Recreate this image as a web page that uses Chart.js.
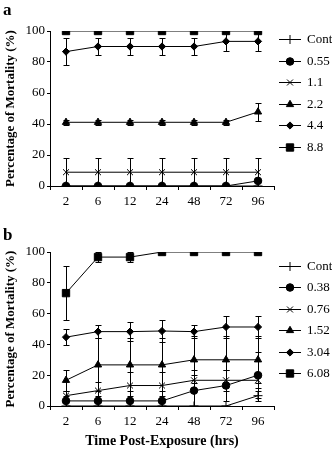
<!DOCTYPE html>
<html><head><meta charset="utf-8">
<script src="https://cdn.jsdelivr.net/npm/chart.js@4/dist/chart.umd.min.js"></script>
<style>
html,body{margin:0;padding:0;background:#fff;}
.p{position:absolute;left:0;width:332px;height:225px;}
</style></head><body>
<div class="p" style="top:0"><canvas id="ca" width="332" height="225"></canvas></div>
<div class="p" style="top:225px"><canvas id="cb" width="332" height="225"></canvas></div>
<script>
// ---- data ----
const hours = ['2', '6', '12', '24', '48', '72', '96'];
const yTicks = [0, 20, 40, 60, 80, 100];

// Panel a
const labelsA = ['Cont', '0.55', '1.1', '2.2', '4.4', '8.8'];
const contA = [0, 0, 0, 0, 0, 0, 0];
const contAErr = [0, 0, 0, 0, 0, 0, 0];
const a055 = [0, 0, 0, 0, 0, 0, 3.3];
const a055Err = [0, 0, 0, 0, 0, 0, 0];
const a11 = [8.9, 8.9, 8.9, 8.9, 8.9, 8.9, 8.9];
const a11Err = [9.1, 9.1, 9.1, 9.1, 9.1, 9.1, 9.1];
const a22 = [41.1, 41.1, 41.1, 41.1, 41.1, 41.1, 47.8];
const a22Err = [1.7, 1.7, 1.7, 1.7, 1.7, 1.7, 6];
const a44 = [86.7, 90, 90, 90, 90, 93.3, 93.3];
const a44Err = [8.7, 5.8, 5.8, 5.8, 5.8, 6, 6];
const a88 = [100, 100, 100, 100, 100, 100, 100];
const a88Err = [0, 0, 0, 0, 0, 0, 0];

// Panel b
const labelsB = ['Cont', '0.38', '0.76', '1.52', '3.04', '6.08'];
const contB = [0, 0, 0, 0, 0, 0, 6.7];
const contBErr = [0, 0, 0, 0, 0, 0, 3.3];
const b038 = [3.3, 3.3, 3.3, 3.3, 10, 13.3, 20];
const b038Err = [3.3, 3.3, 3.3, 3.3, 10, 10, 15];
const b076 = [6.7, 10, 13.3, 13.3, 16.7, 16.7, 16.7];
const b076Err = [3.3, 5.8, 8.8, 8.8, 6.7, 6.7, 5];
const b152 = [16.7, 26.7, 26.7, 26.7, 30, 30, 30];
const b152Err = [6.7, 17.2, 17.2, 17.2, 15.3, 15.3, 15.3];
const b304 = [44.7, 48.3, 48.3, 48.7, 48.3, 51.3, 51.3];
const b304Err = [5, 4.3, 6, 7, 4.3, 7, 7];
const b608 = [73.3, 96.7, 96.7, 100, 100, 100, 100];
const b608Err = [17.6, 3.3, 3.3, 0, 0, 0, 0];

// ---- styles ----
const FONT = '"Liberation Serif", "Times New Roman", serif';
const markers = [
  {pointStyle: 'cross', pointRadius: 4.5},
  {pointStyle: 'circle', pointRadius: 3.8},
  {pointStyle: 'crossRot', pointRadius: 4.2},
  {pointStyle: 'triangle', pointRadius: 4.2},
  {pointStyle: 'rectRot', pointRadius: 3.6},
  {pointStyle: 'rect', pointRadius: 5.2}
];

const errorBars = {
  id: 'errorBars',
  beforeDatasetsDraw(chart) {
    const {ctx, scales: {y}} = chart;
    ctx.save();
    ctx.strokeStyle = '#000';
    ctx.lineWidth = 1;
    chart.data.datasets.forEach((ds, i) => {
      const meta = chart.getDatasetMeta(i);
      (ds.errors || []).forEach((e, j) => {
        if (!e) return;
        const v = ds.data[j];
        const px = Math.round(meta.data[j].x) + 0.5;
        const yt = Math.round(y.getPixelForValue(Math.min(100, v + e))) + 0.5;
        const yb = Math.round(y.getPixelForValue(Math.max(0, v - e))) + 0.5;
        ctx.beginPath();
        ctx.moveTo(px, yt); ctx.lineTo(px, yb);
        ctx.moveTo(px - 3, yt); ctx.lineTo(px + 3, yt);
        if (v - e >= 0) { ctx.moveTo(px - 3, yb); ctx.lineTo(px + 3, yb); }
        ctx.stroke();
      });
    });
    ctx.restore();
  }
};

const lineLegend = {
  id: 'lineLegend',
  afterDraw(chart, args, opts) {
    const ctx = chart.ctx, ca = chart.chartArea;
    const x0 = ca.right + opts.dx, y0 = ca.top + opts.dy;
    ctx.save();
    ctx.font = '13px ' + FONT;
    ctx.textBaseline = 'middle';
    ctx.textAlign = 'left';
    chart.data.datasets.forEach((ds, i) => {
      const yy = Math.round(y0 + i * opts.step) + 0.5;
      ctx.strokeStyle = '#000'; ctx.fillStyle = '#000'; ctx.lineWidth = 1;
      ctx.beginPath(); ctx.moveTo(x0, yy); ctx.lineTo(x0 + opts.len, yy); ctx.stroke();
      Chart.helpers.drawPoint(ctx, {pointStyle: ds.pointStyle, radius: ds.pointRadius, borderWidth: 1, rotation: 0}, x0 + opts.len / 2, yy);
      ctx.fillStyle = '#000';
      ctx.fillText(ds.label, x0 + opts.len + 6, yy);
    });
    ctx.restore();
  }
};

function makeChart(id, letter, labels, series, errs, cfg) {
  const datasets = labels.map((lab, i) => ({
    label: lab,
    data: series[i],
    errors: errs[i],
    borderColor: '#000',
    backgroundColor: '#000',
    borderWidth: 1,
    pointStyle: markers[i].pointStyle,
    pointRadius: markers[i].pointRadius,
    pointBorderWidth: 1,
    pointBackgroundColor: '#000',
    pointBorderColor: '#000',
    tension: 0,
    fill: false
  }));
  return new Chart(document.getElementById(id), {
    type: 'line',
    data: {labels: hours, datasets},
    options: {
      responsive: false,
      animation: false,
      events: [],
      layout: {padding: {left: 3, right: 58, top: 0, bottom: 0}},
      plugins: {
        legend: {display: false},
        tooltip: {enabled: false},
        title: {
          display: true, text: letter, align: 'start', color: '#000',
          font: {family: FONT, size: 17, weight: 'bold', lineHeight: 1.2},
          padding: {top: 0, bottom: cfg.titleBottom}
        },
        lineLegend: cfg.legend
      },
      scales: {
        x: {
          type: 'category',
          offset: true,
          afterFit: s => { s.height = cfg.xHeight; },
          grid: {offset: true, drawOnChartArea: false, tickLength: 4, color: '#000'},
          border: {color: '#000', width: 1},
          ticks: {color: '#000', font: {family: FONT, size: 13}, padding: 4, maxRotation: 0, autoSkip: false},
          title: {
            display: !!cfg.xTitle, text: cfg.xTitle || '', color: '#000',
            font: {family: FONT, size: 14, weight: 'bold'},
            padding: {top: 0, bottom: 0}
          }
        },
        y: {
          min: 0, max: 100,
          afterFit: s => { s.width = 47; },
          afterBuildTicks: s => { s.ticks = yTicks.map(v => ({value: v})); },
          grid: {drawOnChartArea: false, tickLength: 3, color: '#000'},
          border: {color: '#000', width: 1},
          ticks: {color: '#000', font: {family: FONT, size: 13}, padding: 2},
          title: {
            display: true, text: 'Percentage of Mortality (%)', color: '#000',
            font: {family: FONT, size: 13, weight: 'bold'},
            padding: {top: 0, bottom: 0}
          }
        }
      }
    },
    plugins: [errorBars, lineLegend]
  });
}

makeChart('ca', 'a', labelsA,
  [contA, a055, a11, a22, a44, a88],
  [contAErr, a055Err, a11Err, a22Err, a44Err, a88Err],
  {titleBottom: 10.6, xHeight: 39, legend: {dx: 5, dy: 8, step: 21.6, len: 22}});

makeChart('cb', 'b', labelsB,
  [contB, b038, b076, b152, b304, b608],
  [contBErr, b038Err, b076Err, b152Err, b304Err, b608Err],
  {titleBottom: 6.6, xHeight: 44, xTitle: 'Time Post-Exposure (hrs)', legend: {dx: 5, dy: 14, step: 21.4, len: 22}});
</script>
</body></html>
